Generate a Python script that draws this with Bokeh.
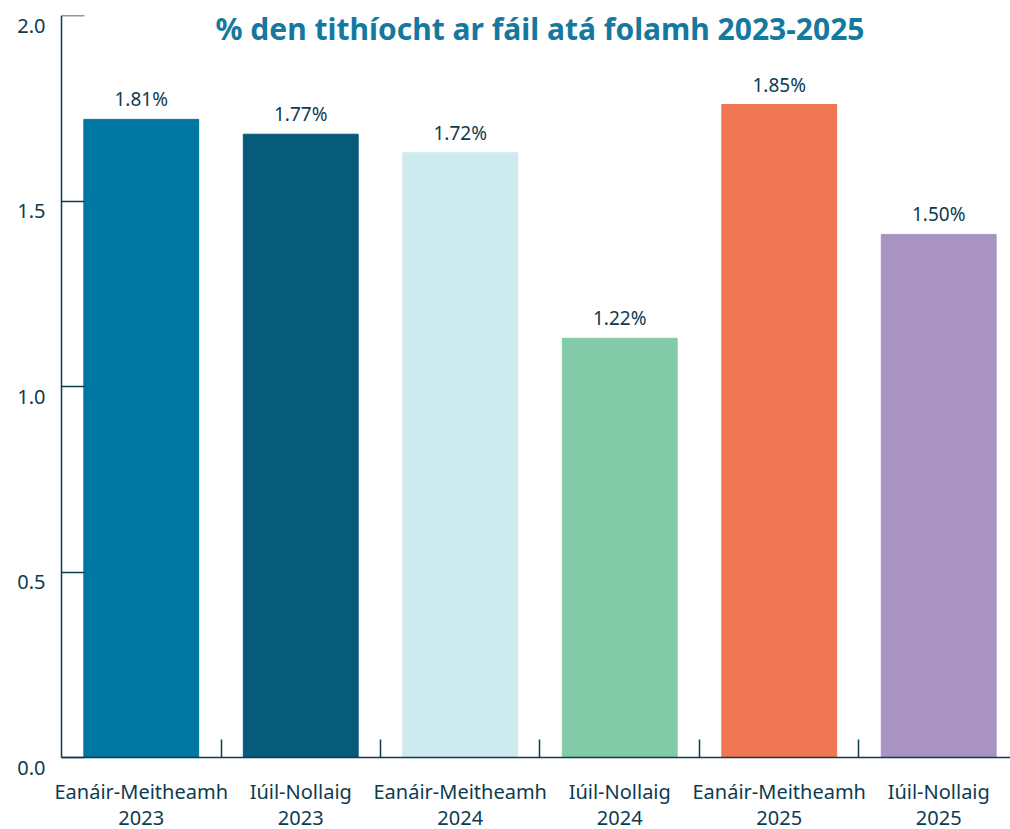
from bokeh.plotting import figure
from bokeh.models import ColumnDataSource, FixedTicker, LabelSet, Label, Range1d, LinearAxis
from bokeh.core.properties import value
from bokeh.embed import file_html
from bokeh.resources import INLINE

categories = ["Eanáir-Meitheamh\n2023", "Iúil-Nollaig\n2023", "Eanáir-Meitheamh\n2024",
              "Iúil-Nollaig\n2024", "Eanáir-Meitheamh\n2025", "Iúil-Nollaig\n2025"]
bar_heights = [1.72, 1.68, 1.63, 1.13, 1.76, 1.41]
value_labels = ["1.81%", "1.77%", "1.72%", "1.22%", "1.85%", "1.50%"]
colors = ["#0077a3", "#065a7a", "#cdeaee", "#83cba8", "#ef7652", "#a993c3"]
y_ticks = [0.0, 0.5, 1.0, 1.5, 2.0]
y_tick_labels = ["0.0", "0.5", "1.0", "1.5", "2.0"]
title_text = "% den tithíocht ar fáil atá folamh 2023-2025"

FONT = "Noto Sans"
DARK = "#0d3b4f"

xs = list(range(len(categories)))
line1 = [c.split("\n")[0] for c in categories]
line2 = [c.split("\n")[1] for c in categories]
src = ColumnDataSource(dict(x=xs, top=bar_heights, lab=value_labels, color=colors,
                            zero=[0.0] * len(xs), l1=line1, l2=line2))

PX_PER_UNIT = 371.0
PX_PER_CAT = 159.4
y_start = -72 / PX_PER_UNIT          # frame reaches below zero so the labels under the axis fit
x_start = -0.5 - 11 / PX_PER_CAT     # frame starts a little left of the y axis line

p = figure(width=1010, height=829, output_backend="svg", toolbar_location=None,
           x_range=Range1d(x_start, 5.45), y_range=Range1d(y_start, 2.0),
           min_border_left=50, min_border_top=15, min_border_right=0, min_border_bottom=0)
p.outline_line_color = None
p.grid.grid_line_color = None
p.background_fill_color = "white"
p.border_fill_color = "white"

p.vbar(x="x", top="top", width=0.72, bottom=0, color="color", source=src)

# x axis placed at y = 0, boundary ticks pointing up
xa = p.xaxis[0]
xa.fixed_location = 0
xa.bounds = (-0.5, 5.45)
xa.ticker = FixedTicker(ticks=xs, minor_ticks=[i + 0.5 for i in xs[:-1]])
xa.major_label_overrides = {i: "" for i in xs}
xa.major_label_text_color = None
xa.major_label_standoff = 0
xa.major_tick_in = 0
xa.major_tick_out = 0
xa.minor_tick_in = 18
xa.minor_tick_out = 0
xa.minor_tick_line_color = DARK
xa.minor_tick_line_width = 1.5
xa.axis_line_color = DARK
xa.axis_line_width = 1.5

# category labels (two lines) under the axis
for col, off in (("l1", -34), ("l2", -60)):
    p.add_layout(LabelSet(x="x", y="zero", text=col, source=src, y_offset=off,
                          text_align="center", text_baseline="middle",
                          text_font=value(FONT), text_font_size=value("20px"),
                          text_color=value(DARK)))

# y axis: line and inward ticks (no labels)
ya = p.yaxis[0]
ya.fixed_location = -0.5
ya.bounds = (0.0, 2.0)
ya.ticker = FixedTicker(ticks=y_ticks, minor_ticks=[])
ya.major_label_overrides = {v: "" for v in y_ticks}
ya.major_tick_in = 23
ya.major_tick_out = 0
ya.major_tick_line_color = DARK
ya.major_tick_line_width = 1.5
ya.axis_line_color = DARK
ya.axis_line_width = 1.5
ya.major_label_text_color = None
ya.major_label_standoff = 0

# y labels: second axis on a range shifted by ~10px so labels sit just below ticks
shift = 10 / PX_PER_UNIT
p.extra_y_ranges = {"lab": Range1d(y_start + shift, 2.0 + shift)}
la = LinearAxis(y_range_name="lab", ticker=FixedTicker(ticks=y_ticks, minor_ticks=[]))
la.major_label_overrides = {v: t for v, t in zip(y_ticks, y_tick_labels)}
la.axis_line_color = None
la.major_tick_line_color = None
la.minor_tick_line_color = None
la.major_tick_in = 0
la.major_tick_out = 0
la.major_label_text_font = FONT
la.major_label_text_font_size = "20px"
la.major_label_text_color = DARK
la.major_label_standoff = 5
p.add_layout(la, "left")

p.add_layout(LabelSet(x="x", y="top", text="lab", source=src, y_offset=20,
                      text_align="center", text_baseline="middle",
                      text_font=value(FONT), text_font_size=value("19px"),
                      text_color=value(DARK)))

p.add_layout(Label(x=2.5, y=1.965, text=title_text, text_align="center", text_baseline="middle",
                   text_font=FONT, text_font_style="bold", text_font_size="30px",
                   text_color="#15799f"))

open("out.html", "w").write(file_html(p, INLINE))
